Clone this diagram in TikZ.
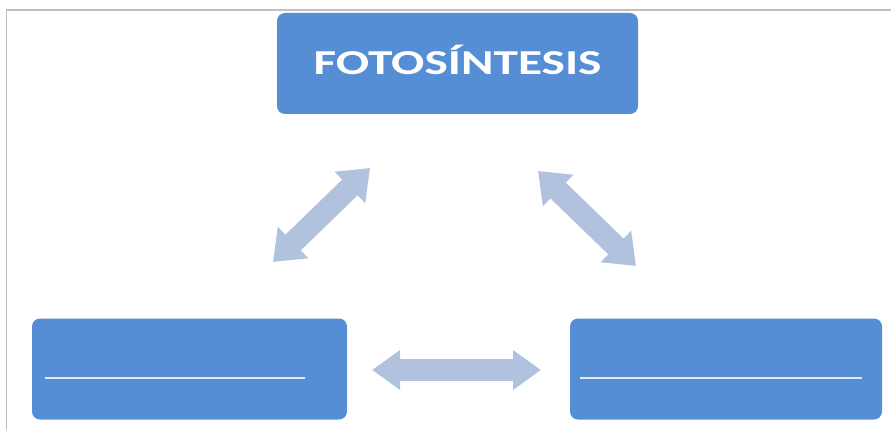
\documentclass[tikz,border=0pt]{standalone}
\usepackage{fontspec}
\setmainfont{Carlito}
\usetikzlibrary{arrows.meta, positioning}
\definecolor{boxblue}{HTML}{558ED5}
\definecolor{arrowblue}{HTML}{B0C2DD}
\definecolor{framegray}{HTML}{C0C0C0}
\definecolor{blankline}{HTML}{E4EAF4}

\begin{document}
\begin{tikzpicture}[x=1pt, y=-1pt, box/.style={
						rectangle,
						rounded corners=8pt,
						fill=boxblue, draw=none,
						minimum height=101pt,
						inner sep=0pt,
						text=white,
						font=\fontsize{35}{40}\selectfont\bfseries,
					},
					link/.style={arrowblue, line width=22pt, {Triangle[width=38pt,length=28pt]}-{Triangle[width=38pt,length=28pt]}},
					blank/.style={blankline, line width=2.5pt},]
					\useasboundingbox (0,0) rectangle (891,430);
					\draw[framegray, line width=1.2pt] (6.5,430) |- (891,10);
					
					\node[box, minimum width=361pt] (photo) at (457.5,63.5) {};
					\node[text=white, font=\fontsize{35}{40}\selectfont\bfseries] (title) at ([yshift=4pt]photo.center) {\scalebox{1.41}[1]{FOTOS\'INTESIS}};
					\node[box, minimum width=315pt] (left) at (189.5,369) {};
					\node[box, minimum width=312pt] (right) at (726,369) {};
					
					% blank lines to fill in
					\draw[blank] ([xshift=13pt, yshift=-9pt]left.west) -- ([xshift=-42pt, yshift=-9pt]left.east);
					\draw[blank] ([xshift=10pt, yshift=-9pt]right.west) -- ([xshift=-20pt, yshift=-9pt]right.east);
					
					% arrow ends
					\coordinate (pl) at (370,168);
					\coordinate (lp) at (273,262);
					\coordinate (pr) at (538,171);
					\coordinate (rp) at (636,266);
					\coordinate (lr) at (372,370);
					\coordinate (rl) at (541,370);
					
					\path (pl) edge[link, {Triangle[width=42pt,length=28pt]}-{Triangle[width=42pt,length=28pt]}] (lp)
					(pr) edge[link, {Triangle[width=42pt,length=28pt]}-{Triangle[width=42pt,length=28pt]}] (rp)
					(lr) edge[link] (rl)
					;
\end{tikzpicture}
\end{document}
